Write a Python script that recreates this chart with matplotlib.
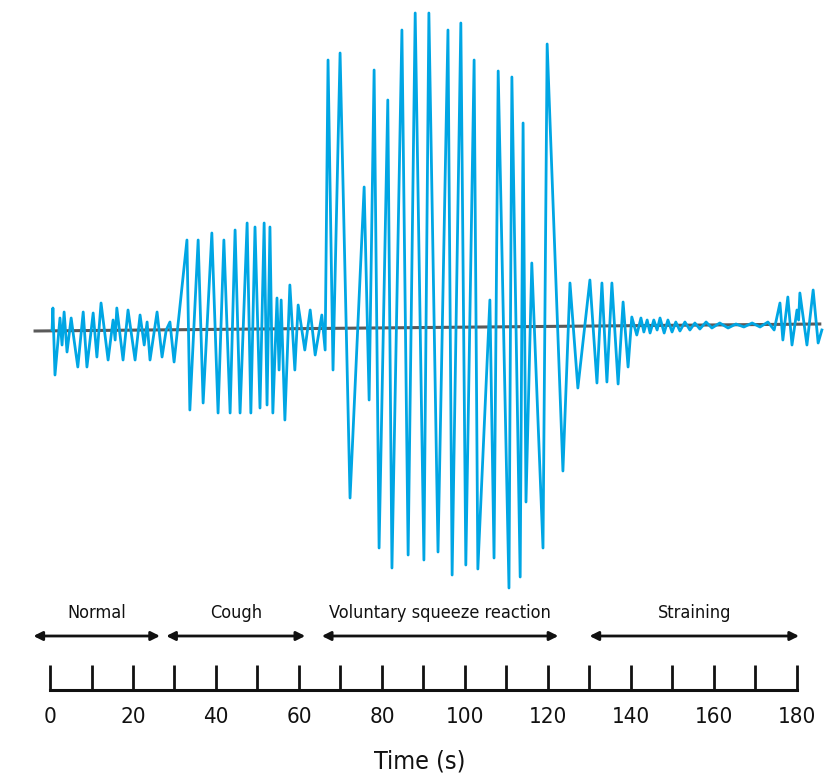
import matplotlib
matplotlib.use('Agg')
import numpy as np
import matplotlib.pyplot as plt

plt.rcParams['font.family'] = ['DejaVu Sans']
plt.rcParams['font.stretch'] = 'condensed'

# EMG trace: time (s) and amplitude (arbitrary units)
normal_t = [0.5, 0.7, 1.2, 2.4, 2.9, 3.4, 4.1, 5.1, 5.8, 6.7, 8.0, 8.9, 10.4, 11.3,
            12.3, 14.0, 15.2, 15.7, 16.1, 17.6, 18.8, 20.5, 21.7, 22.7, 23.4, 24.1,
            25.8, 27.0, 28.0, 28.9, 29.9]
normal_v = [0, 22, -45, 12, -15, 18, -22, 12, -10, -37, 18, -37, 17, -27,
            27, -30, 10, -10, 22, -30, 20, -30, 15, -15, 8, -30,
            18, -27, 0, 8, -32]

cough_t = [33.0, 33.7, 35.7, 36.9, 39.0, 40.5, 41.9, 43.4, 44.6, 45.8, 47.5, 48.4,
           49.4, 50.6, 51.6, 52.3, 53.0, 53.7, 54.7, 55.2, 55.7, 56.6, 57.8, 59.0,
           59.8, 61.4, 62.7, 63.9, 65.5, 66.3]
cough_v = [90, -80, 90, -73, 97, -83, 90, -83, 100, -83, 107, -83,
           103, -78, 107, -75, 103, -83, 32, -40, 30, -90, 45, -40,
           25, -20, 20, -25, 15, -20]

squeeze_t = [67.0, 68.2, 69.9, 72.3, 75.7, 76.9, 78.1, 79.3, 81.4, 82.4, 84.8, 86.3,
             88.0, 90.1, 91.3, 93.5, 95.9, 96.9, 99.0, 100.2, 102.2, 103.1, 106.0,
             107.0, 108.0, 110.6, 111.3, 113.3, 114.0, 114.7, 116.1, 118.8, 119.8,
             123.6, 125.3, 127.2]
squeeze_v = [270, -40, 277, -168, 143, -70, 260, -218, 230, -238, 300, -225,
             317, -230, 317, -222, 300, -245, 307, -235, 270, -239, 30,
             -228, 259, -258, 253, -247, 207, -172, 67, -218, 286,
             -141, 47, -58]

strain_t = [130.1, 131.8, 133.0, 134.2, 135.4, 136.9, 138.1, 139.3, 140.2, 141.4,
            142.4, 143.1, 143.9, 144.6, 145.5, 146.3, 147.0, 148.0, 148.9, 149.9,
            150.8, 151.8, 153.0, 154.2, 155.4, 156.6, 158.1, 159.5, 161.4, 163.4,
            165.3, 167.2, 169.2, 171.1, 173.0, 174.5, 175.9, 176.6, 177.8, 178.8,
            180.0, 180.4, 180.7, 182.4, 183.9, 185.1, 186.0]
strain_v = [50, -53, 47, -52, 47, -54, 28, -37, 13, -5,
            12, -2, 10, -3, 10, 0, 12, -3, 10, -2,
            8, -1, 8, 0, 7, 1, 8, 2, 7, 2,
            6, 3, 7, 3, 8, 0, 27, -10, 33, -15,
            20, 10, 37, -15, 40, -13, 0]

sig_t = normal_t + cough_t + squeeze_t + strain_t
sig_v = normal_v + cough_v + squeeze_v + strain_v

# zero line (drifts slightly)
base_t = [-3.6, 185.5]
base_v = [-1, 6]

# recording phases
phases = ['Normal', 'Cough', 'Voluntary squeeze reaction', 'Straining']
phase_start = [-4.0, 28.0, 65.5, 130.0]
phase_end = [26.5, 61.5, 122.5, 180.5]

ticks = np.arange(0, 181, 10)
tick_labels = [str(t) for t in range(0, 181, 20)]

# layout (data units)
AXIS_Y = -360
TICK_LEN = 25
ARROW_Y = -306
PHASE_Y = -283

fig = plt.figure(figsize=(8.31, 7.81), dpi=100)
ax = fig.add_axes([0, 0, 1, 1])
ax.set_xlim(-12.05, 188.2)
ax.set_ylim(-451, 330)
ax.axis('off')

ax.plot(base_t, base_v, color='#5a5a5a', lw=2.2, zorder=1)
ax.plot(sig_t, sig_v, color='#00a6e4', lw=2.0, zorder=2)

# time axis
ax.plot([ticks[0], ticks[-1]], [AXIS_Y, AXIS_Y], color='#111111', lw=2.2,
        solid_capstyle='projecting')
ax.vlines(ticks, AXIS_Y, AXIS_Y + TICK_LEN, color='#111111', lw=2)
for lab in tick_labels:
    ax.text(int(lab), AXIS_Y - 27, lab, ha='center', va='center', fontsize=16,
            color='#111111')
ax.text(89, AXIS_Y - 72, 'Time (s)', ha='center', va='center', fontsize=18,
        color='#111111')

for name, s, e in zip(phases, phase_start, phase_end):
    ax.annotate('', xy=(e, ARROW_Y), xytext=(s, ARROW_Y),
                arrowprops=dict(arrowstyle='<|-|>', color='#111111', lw=2,
                                mutation_scale=13, shrinkA=0, shrinkB=0))
    ax.text((s + e) / 2, PHASE_Y, name, ha='center', va='center', fontsize=13,
            color='#111111')

fig.savefig('out.png', dpi=100)
